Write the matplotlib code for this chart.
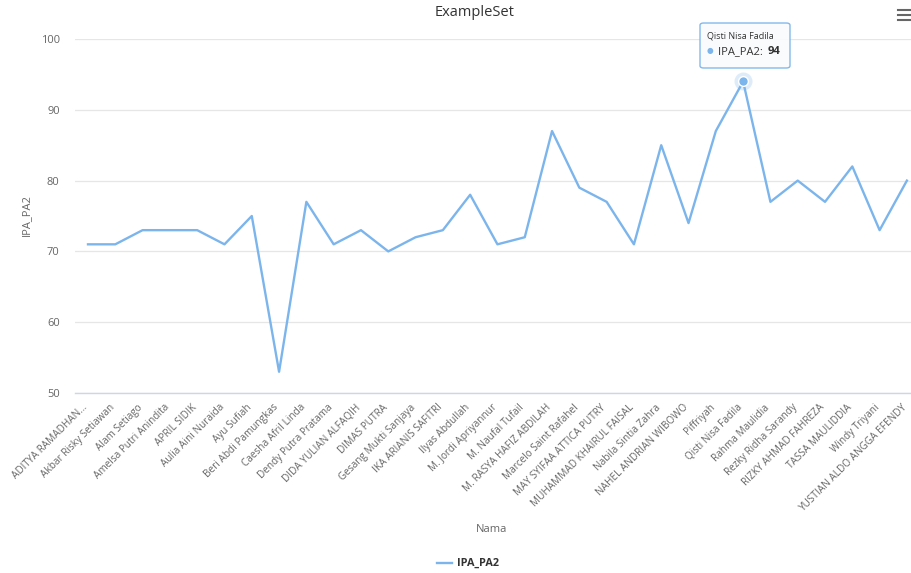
import matplotlib
matplotlib.use("Agg")
import matplotlib.pyplot as plt
import matplotlib.transforms as mtransforms
from matplotlib.lines import Line2D
from matplotlib.patches import FancyBboxPatch

plt.rcParams["font.family"] = ["Open Sans", "DejaVu Sans"]

names = [
    "ADITYA RAMADHAN...", "Akbar Risky Setiawan", "Alam Setiago",
    "Amelsa Putri Anindita", "APRIL SIDIK", "Aulia Aini Nuraida",
    "Ayu Sufiah", "Beri Abdi Pamungkas", "Caesha Afril Linda",
    "Dendy Putra Pratama", "DIDA YULIAN ALFAQIH", "DIMAS PUTRA",
    "Gesang Mukti Sanjaya", "IKA ARIANIS SAFITRI", "Ilyas Abdullah",
    "M. Jordi Apriyannur", "M. Naufal Tufail", "M. RASYA HAFIZ ABDILAH",
    "Marcelo Saint Rafahel", "MAY SYIFAA ATTICA PUTRY",
    "MUHAMMAD KHAIRUL FAISAL", "Nabila Sintia Zahra",
    "NAHEL ANDRIAN WIBOWO", "Piffriyah", "Qisti Nisa Fadila",
    "Rahma Maulidia", "Rezky Ridha Sarandy", "RIZKY AHMAD FAHREZA",
    "TASSA MAULIDDIA", "Windy Triyani", "YUSTIAN ALDO ANGGA EFENDY",
]
ipa_pa2 = [71, 71, 73, 73, 73, 71, 75, 53, 77, 71, 73, 70, 72, 73, 78,
           71, 72, 87, 79, 77, 71, 85, 74, 87, 94, 77, 80, 77, 82, 73, 80]
y_ticks = [50, 60, 70, 80, 90, 100]
hover_idx = 24

LINE = "#7cb5ec"
W, H = 911, 573
fig = plt.figure(figsize=(W / 100, H / 100), dpi=100)
ax = fig.add_axes([75 / W, 1 - 393 / H, 836 / W, 354 / H])

x = list(range(len(names)))
ax.plot(x, ipa_pa2, color=LINE, linewidth=1.7, solid_joinstyle="round",
        label="IPA_PA2", zorder=3)

# hovered point with halo
ax.plot(x[hover_idx], ipa_pa2[hover_idx], "o", ms=13, color=LINE, alpha=0.25,
        mec="none", zorder=4)
ax.plot(x[hover_idx], ipa_pa2[hover_idx], "o", ms=7, color=LINE,
        mec="white", mew=1, zorder=5)

ax.set_xlim(-0.476, len(names) - 1 + 0.15)
ax.set_ylim(y_ticks[0], y_ticks[-1])
ax.set_yticks(y_ticks)
ax.set_xticks(x)
ax.set_xticklabels([])
# rotated category labels, end of text at each tick
lab_tf = ax.get_xaxis_transform() + mtransforms.ScaledTranslation(
    -2 / 100, -13 / 100, fig.dpi_scale_trans)
for xi, name in zip(x, names):
    ax.text(xi, 0, name, transform=lab_tf, rotation=45, ha="right",
            va="center", rotation_mode="anchor", fontsize=7.2,
            color="#666666", clip_on=False)
ax.tick_params(axis="x", length=0)
ax.tick_params(axis="y", length=0, pad=11, labelsize=8, labelcolor="#666666")
ax.grid(axis="y", color="#e6e6e6", linewidth=0.9)
ax.set_axisbelow(True)
for side in ("top", "right", "left"):
    ax.spines[side].set_visible(False)
ax.spines["bottom"].set_color("#ccd6eb")
ax.spines["bottom"].set_linewidth(1)

fig.text(475 / W, 1 - 12 / H, "ExampleSet", ha="center", va="center",
         fontsize=10.5, color="#333333")
fig.text(27 / W, 1 - 215 / H, "IPA_PA2", rotation=90, ha="center",
         va="center", fontsize=8, color="#666666")
fig.text(492 / W, 1 - 530 / H, "Nama", ha="center", va="center",
         fontsize=8, color="#666666")

# legend
fig.add_artist(Line2D([437 / W, 452 / W], [1 - 563 / H] * 2, color=LINE,
                      linewidth=1.7))
fig.text(457 / W, 1 - 563 / H, "IPA_PA2", ha="left", va="center",
         fontsize=7.8, fontweight="bold", color="#333333")

# menu icon
for yy in (10, 15, 20):
    fig.add_artist(Line2D([898 / W, 910 / W], [1 - yy / H] * 2,
                          color="#666666", linewidth=1.5))

# tooltip
bx0, by0, bw, bh = 700, 23, 90, 45
box = FancyBboxPatch((bx0 / W, 1 - (by0 + bh) / H), bw / W, bh / H,
                     boxstyle="round,pad=0,rounding_size=0.004",
                     transform=fig.transFigure, facecolor="#f9fbfd",
                     edgecolor=LINE, linewidth=1, alpha=0.95, zorder=10)
fig.add_artist(box)
fig.text(707 / W, 1 - 36 / H, names[hover_idx], ha="left", va="center",
         fontsize=6.5, color="#333333", zorder=11)
fig.text(707 / W, 1 - 52 / H, "\u25cf", ha="left", va="center",
         fontsize=5.5, color=LINE, zorder=11)
fig.text(718 / W, 1 - 52 / H, "IPA_PA2: ", ha="left", va="center",
         fontsize=8, color="#333333", zorder=11)
fig.text(768 / W, 1 - 52 / H, str(ipa_pa2[hover_idx]), ha="left",
         va="center", fontsize=8, fontweight="bold", color="#333333",
         zorder=11)

fig.savefig("out.png", dpi=100, facecolor="white")
